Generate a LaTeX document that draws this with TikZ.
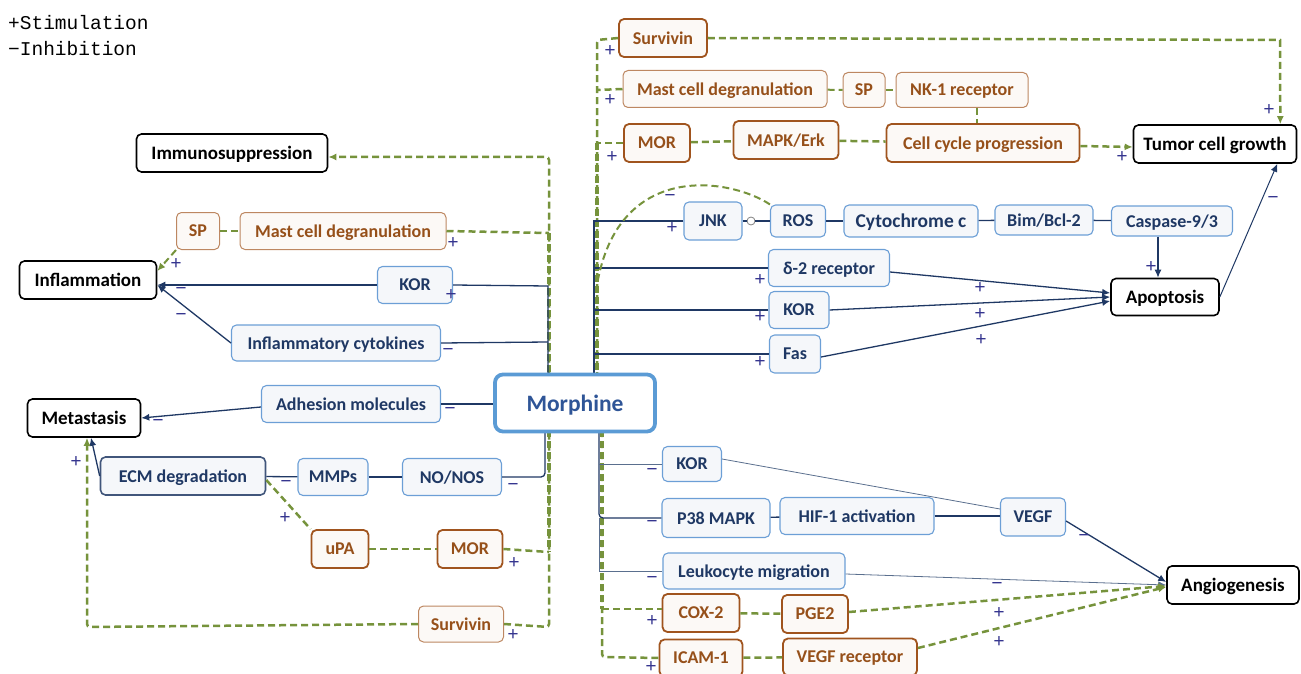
\documentclass[tikz,border=0pt]{standalone}
\usepackage{fontspec}
\setmainfont{Carlito}
\newfontfamily\legfont{Liberation Mono}
\usetikzlibrary{arrows.meta}
\definecolor{navy}{HTML}{1F3864}
\definecolor{navyl}{HTML}{5A6F8E}
\definecolor{bborder}{HTML}{6C9FD6}
\definecolor{bfill}{HTML}{F5F7FA}
\definecolor{brn}{HTML}{A0541E}
\definecolor{brtext}{HTML}{96501A}
\definecolor{brfill}{HTML}{FCF9F6}
\definecolor{grn}{HTML}{76933C}
\definecolor{mborder}{HTML}{5B9BD5}
\definecolor{mtext}{HTML}{2F5597}
\definecolor{sgn}{HTML}{35358F}
\begin{document}
\begin{tikzpicture}[x=1pt,y=-1pt,
  box/.style={rounded corners=5pt, inner sep=0pt, text depth=0pt, font=\fontsize{18}{21}\selectfont\bfseries},
  outc/.style={box, draw=black, line width=1.6pt, fill=white, text=black, font=\fontsize{19}{22}\selectfont\bfseries},
  bl/.style={box, draw=bborder, line width=1.1pt, fill=bfill, text=navy},
  bld/.style={box, draw=navy!85, line width=1.6pt, fill=bfill, text=navy},
  br/.style={box, draw=brn!70, line width=1pt, fill=brfill, text=brtext},
  brt/.style={box, draw=brn, line width=1.8pt, fill=brfill, text=brtext},
  sz/.style 2 args={minimum width=#1, minimum height=#2},
  nv/.style={draw=navy, line width=1.3pt},
  nvt/.style={draw=navyl, line width=0.8pt},
  gr/.style={draw=grn, line width=2.5pt, dash pattern=on 7pt off 4pt},
  arr/.style={-{Latex[length=8pt,width=7pt]}},
  sg/.style={font=\legfont\fontsize{19}{19}\selectfont, text=sgn, inner sep=0pt},
  leg/.style={font=\legfont\fontsize{19.5}{20}\selectfont, text=black, inner sep=0pt, anchor=west}
]
\useasboundingbox (0,0) rectangle (1301,674);

% legend
\node[leg] (l1) at (8,23) {+Stimulation};
\node[leg] (l2) at (8,49) {−Inhibition};

% trunk coordinates
\coordinate (gL0) at (549,157);
\coordinate (gL1) at (549,233);
\coordinate (gL2) at (549,552);
\coordinate (gL3) at (549,627);
\coordinate (gLm) at (549,380);
\coordinate (gLb) at (549,430);
\coordinate (bL0) at (548,286);
\coordinate (bL1) at (548,342);
\coordinate (bLm) at (548,378);
\coordinate (bL3) at (545,477);
\coordinate (bLb) at (545,430);
\coordinate (gR0) at (597,40);
\coordinate (gR1) at (597,90);
\coordinate (gR2) at (597,143);
\coordinate (gRm) at (597,378);
\coordinate (gRb) at (602,430);
\coordinate (gR3) at (602,609);
\coordinate (gR4) at (602,657);
\coordinate (bR0) at (594,221);
\coordinate (bRm) at (594,378);
\coordinate (bRb) at (599,430);
\coordinate (bR4) at (599,464);
\coordinate (bR5) at (599,518);
\coordinate (bR6) at (599,571);
\coordinate (cT) at (1280,40);
\coordinate (gM) at (87,627);
\coordinate (cur) at (597,285);

% nodes: outcomes
\node[outc, sz={191}{38}] (immu) at (232,153) {Immunosuppression};
\node[outc, sz={137}{38}] (infl) at (88,280) {Inflammation};
\node[outc, sz={113}{38}] (meta) at (84,418) {Metastasis};
\node[outc, sz={163}{38}] (tumor) at (1215,144) {Tumor cell growth};
\node[outc, sz={108}{37}] (apop) at (1165,297) {Apoptosis};
\node[outc, sz={132}{38}] (angio) at (1233,585) {Angiogenesis};

% blue nodes
\node[bl, sz={75}{37}] (korL) at (415,285) {KOR};
\node[bl, sz={209}{36}] (cyto) at (336,343) {Inflammatory cytokines};
\node[bl, sz={179}{37}] (adh) at (351,404) {Adhesion molecules};
\node[bld, sz={165}{38}] (ecm) at (183,476) {ECM degradation};
\node[bl, sz={70}{37}] (mmps) at (333,477) {MMPs};
\node[bl, sz={99}{37}] (nonos) at (452,477) {NO/NOS};
\node[bl, sz={58}{38}] (jnk) at (713,221) {JNK};
\node[bl, sz={55}{32}] (ros) at (798,221) {ROS};
\node[bl, sz={134}{32}, font=\fontsize{19.5}{22}\selectfont\bfseries] (cytc) at (911,221) {Cytochrome c};
\node[bl, sz={98}{30}] (bim) at (1044,220) {Bim/Bcl-2};
\node[bl, sz={121}{30}] (casp) at (1172,221) {Caspase-9/3};
\node[bl, sz={121}{37}] (d2) at (829,268) {δ-2 receptor};
\node[bl, sz={60}{37}] (korR) at (799,310) {KOR};
\node[bl, sz={51}{38}] (fas) at (795,354) {Fas};
\node[bl, sz={59}{35}] (korB) at (692,464) {KOR};
\node[bl, sz={108}{39}] (p38) at (716,518) {P38 MAPK};
\node[bl, sz={154}{37}] (hif) at (857,516) {HIF-1 activation};
\node[bl, sz={65}{38}] (vegf) at (1033,517) {VEGF};
\node[bl, sz={182}{36}] (leuk) at (754,571) {Leukocyte migration};

% brown nodes
\node[br, sz={43}{37}] (spL) at (198,231) {SP};
\node[br, sz={206}{37}] (mastL) at (343,231) {Mast cell degranulation};
\node[brt, sz={57}{38}] (upa) at (340,549) {uPA};
\node[brt, sz={65}{38}] (morL) at (470,549) {MOR};
\node[br, sz={85}{36}] (survL) at (461,624) {Survivin};
\node[brt, sz={88}{38}] (survT) at (663,38) {Survivin};
\node[br, sz={204}{37}] (mastT) at (725,89) {Mast cell degranulation};
\node[br, sz={42}{35}] (spT) at (864,90) {SP};
\node[br, sz={132}{35}] (nk1) at (962,90) {NK-1 receptor};
\node[brt, sz={66}{38}] (morT) at (657,143) {MOR};
\node[brt, sz={105}{38}] (mapk) at (786,140) {MAPK/Erk};
\node[brt, sz={193}{38}] (ccp) at (983,143) {Cell cycle progression};
\node[brt, sz={77}{38}] (cox2) at (701,613) {COX-2};
\node[brt, sz={66}{38}] (pge2) at (815,614) {PGE2};
\node[brt, sz={83}{37}] (icam) at (701,658) {ICAM-1};
\node[brt, sz={134}{37}] (vegfr) at (850,657) {VEGF receptor};

% ---------- left connectors
\draw[gr, arr, rounded corners=3pt] (survL.east) -- (gL3) -- (gL0) -- (gL0 -| immu.east);
\draw[gr, line width=3.2pt] (gL1) -- (gLm);
\draw[gr, line width=3.4pt] (gLb) -- (gL2);
\draw[gr] (mastL.east) -- (gL1);
\draw[gr] (morL.east) -- (gL2);
\draw[nv] (korL.east) -- (bL0) -- (bLm);
\draw[nv] (cyto.east) -- (bL1);
\draw[nv] (adh.east) -- (adh.east -| bLb);
\draw[nv, rounded corners=4pt] (nonos.east) -- (bL3) -- (bLb);
\draw[nv, arr] (korL.west) -- (korL.west -| infl.east);
\draw[nv, arr] (cyto.west) -- ([yshift=-5pt]infl.east);
\draw[gr, arr, line width=2pt] (spL.south west) -- ([yshift=9pt]infl.east);
\draw[gr, line width=2pt] (spL) -- (mastL);
\draw[nv, arr] ([yshift=-3pt]adh.west) -- (meta.east);
\draw[nv, arr] (ecm.west) -- ([xshift=7pt]meta.south);
\draw[gr, arr, rounded corners=3pt] (survL.west) -- (gM) -- ([xshift=3pt]meta.south);
\draw[nv] (ecm) -- (mmps);
\draw[nv] (mmps) -- (nonos);
\draw[gr] ([yshift=-4pt]ecm.east) -- (upa.north west);
\draw[gr] (upa) -- (morL);

% ---------- right connectors
\draw[gr, rounded corners=3pt] (survT.west) -- (gR0) -- (gRm);
\draw[gr, line width=4.2pt] (gR2) -- (gRm);
\draw[gr, rounded corners=3pt] (gRb) -- (gR4) -- (icam.west);
\draw[gr, line width=3.4pt] (gRb) -- (gR3);
\draw[gr] (mastT.west) -- (gR1);
\draw[gr] (morT.west) -- (gR2);
\draw[gr] (gR3) -- (gR3 -| cox2.west);
\draw[nv] (jnk.west) -- (bR0) -- (bRm);
\draw[nv] (d2.west) -- (d2.west -| bR0);
\draw[nv] (korR.west) -- (korR.west -| bR0);
\draw[nv] (fas.west) -- (fas.west -| bR0);
\draw[nv, rounded corners=4pt] (bRb) -- (bR5) -- (p38.west);
\draw[nvt] (bR4) -- (korB.west);
\draw[nvt] (bR5) -- (bR6) -- (leuk.west);
\draw[gr, line width=2pt] (ros.north west) .. controls (730,178) and (618,160) .. (cur);

\draw[gr, arr] (survT.east) -- (cT) -- ([xshift=-17pt]tumor.north east);
\draw[gr, line width=2pt] (mastT) -- (spT);
\draw[gr, line width=2pt] (spT) -- (nk1);
\draw[gr, line width=2pt] ([xshift=15pt]nk1.south) -- ([xshift=15pt]nk1.south |- ccp.north);
\draw[gr] (morT) -- (mapk);
\draw[gr] (mapk) -- (ccp);
\draw[gr, arr] ([yshift=-3pt]ccp.east) -- ([yshift=-3pt]tumor.west);

\node[circle, draw=gray, line width=0.8pt, fill=white, inner sep=0pt, minimum size=8pt] (circ) at (751,221) {};
\draw[nv] (jnk.east) -- (circ);
\draw[nv] (circ) -- (ros.west);
\draw[nv] (ros) -- (cytc);
\draw[nv] (cytc) -- (bim);
\draw[nv] (bim) -- (casp);
\draw[nv, arr] ([xshift=-7pt]apop.north |- casp.south) -- ([xshift=-7pt]apop.north);
\draw[nv, arr] ([yshift=-4pt]d2.east) -- ([yshift=4pt]apop.west);
\draw[nv, arr] (korR.east) -- (apop.west);
\draw[nv, arr] ([yshift=-3pt]fas.east) -- ([yshift=-4pt]apop.west);
\draw[nv, arr, line width=1pt] (apop.east) -- ([xshift=-20pt]tumor.south east);

\draw[nvt] ([yshift=5pt]korB.east) -- ([yshift=8pt]vegf.west);
\draw[nv] (p38) -- (hif);
\draw[nv] (hif.east) -- (hif.east -| vegf.west);
\draw[nv, arr] ([yshift=-4pt]vegf.east) -- ([yshift=3pt]angio.west);
\draw[nvt, arr] ([yshift=-3pt]leuk.east) -- (angio.west);
\draw[gr] (cox2) -- (pge2);
\draw[gr] (icam) -- (vegfr);
\draw[gr, arr] ([yshift=2pt]pge2.east) -- ([yshift=-1pt]angio.west);
\draw[gr, arr] ([yshift=9pt]vegfr.east) -- ([yshift=-2pt]angio.west);

% morphine on top
\node[box, draw=mborder, line width=3.8pt, rounded corners=8pt, fill=white, text=mtext, sz={160}{57}, font=\fontsize{23.5}{27}\selectfont\bfseries] (morph) at (575,403) {Morphine};

% signs
\foreach \p/\s [count=\i] in {
 {(176,264)}/+, {(181,291)}/−, {(181,317)}/−, {(453,243)}/+, {(451,295)}/+, {(448,352)}/−,
 {(450,411)}/−, {(158,423)}/−, {(76,462)}/+, {(286,484)}/−, {(513,487)}/−, {(285,518)}/+,
 {(514,563)}/+, {(513,635)}/+,
 {(610,51)}/+, {(610,100)}/+, {(612,157)}/+, {(1269,110)}/+, {(1122,157)}/+, {(1273,200)}/−,
 {(670,198)}/−, {(672,228)}/+, {(760,280)}/+, {(980,288)}/+, {(760,317)}/+, {(980,314)}/+,
 {(760,362)}/+, {(981,340)}/+, {(1151,267)}/+, {(652,472)}/−, {(652,524)}/−, {(1084,538)}/−,
 {(652,580)}/−, {(997,586)}/−, {(652,621)}/+, {(999,613)}/+, {(651,667)}/+, {(999,642)}/+}
 \node[sg] (s\i) at \p {\s};
\end{tikzpicture}
\end{document}
